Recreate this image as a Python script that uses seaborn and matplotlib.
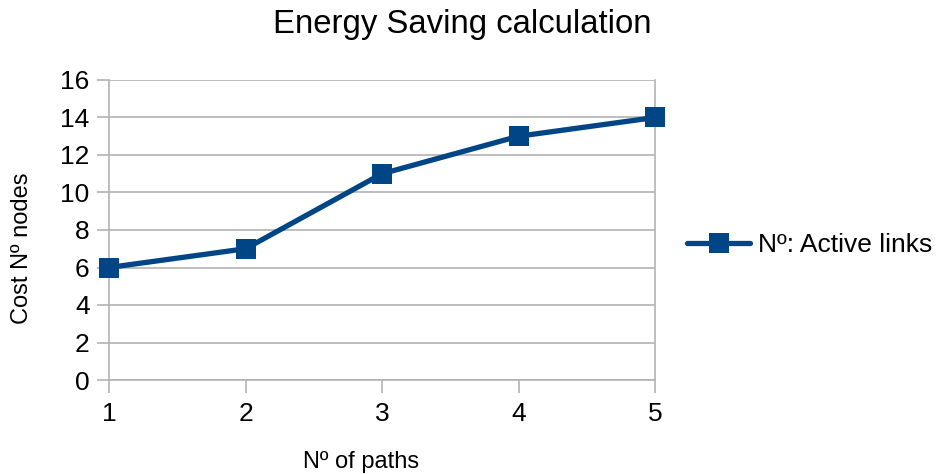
import matplotlib
matplotlib.use("Agg")
import matplotlib.pyplot as plt
import seaborn as sns
import pandas as pd

paths = [1, 2, 3, 4, 5]
active_links = [6, 7, 11, 13, 14]
series_name = "Nº: Active links"
y_ticks = [0, 2, 4, 6, 8, 10, 12, 14, 16]

sns.set_theme(style="white")
plt.rcParams['font.family'] = ['Liberation Sans', 'DejaVu Sans']

df = pd.DataFrame({"paths": paths, "links": active_links, "series": series_name})

fig = plt.figure(figsize=(9.39, 4.74), dpi=100)
ax = fig.add_axes([109 / 939, 1 - 380 / 474, (655 - 109) / 939, 300 / 474])

line_color = "#004586"
grid_color = "#b3b3b3"

sns.lineplot(data=df, x="paths", y="links", hue="series", palette=[line_color],
             marker="s", markersize=15, markeredgewidth=0, linewidth=3.8, ax=ax,
             clip_on=False, zorder=3)

ax.set_xlim(1, 5)
ax.set_ylim(0, 16)
ax.set_yticks(y_ticks)
ax.set_xticks(paths)
ax.yaxis.grid(True, color=grid_color, linewidth=1.2)
ax.xaxis.grid(False)
ax.set_axisbelow(True)

ax.spines["top"].set_visible(False)
for side in ["left", "right", "bottom"]:
    ax.spines[side].set_color(grid_color)
    ax.spines[side].set_linewidth(1.2)

ax.tick_params(axis="y", which="both", direction="out", length=9, width=1.2,
               color=grid_color, labelsize=19, pad=5, left=True)
ax.tick_params(axis="x", which="both", direction="out", length=9, width=1.2,
               color=grid_color, labelsize=19, pad=7, bottom=True)
for lbl in ax.get_xticklabels() + ax.get_yticklabels():
    lbl.set_color("#000000")

ax.set_xlabel("")
ax.set_ylabel("")
fig.text(361 / 939, 1 - 462 / 474, "Nº of paths", fontsize=17,
         ha="center", va="center", color="#000000")
fig.text(22 / 939, 1 - 248 / 474, "Cost Nº nodes", fontsize=17, rotation=90,
         ha="center", va="center", color="#000000")

fig.text(462 / 939, 1 - 25 / 474, "Energy Saving calculation", fontsize=23.7,
         ha="center", va="center", color="#000000")

leg = ax.legend(loc="center left", bbox_to_anchor=(687 / 939, 1 - 245 / 474),
                bbox_transform=fig.transFigure, frameon=False, borderpad=0,
                borderaxespad=0, fontsize=19, handlelength=2.4, handletextpad=0.3)
for t in leg.get_texts():
    t.set_color("#000000")
for h in leg.legend_handles:
    h.set_markersize(15)

fig.savefig("out.png", dpi=100)
